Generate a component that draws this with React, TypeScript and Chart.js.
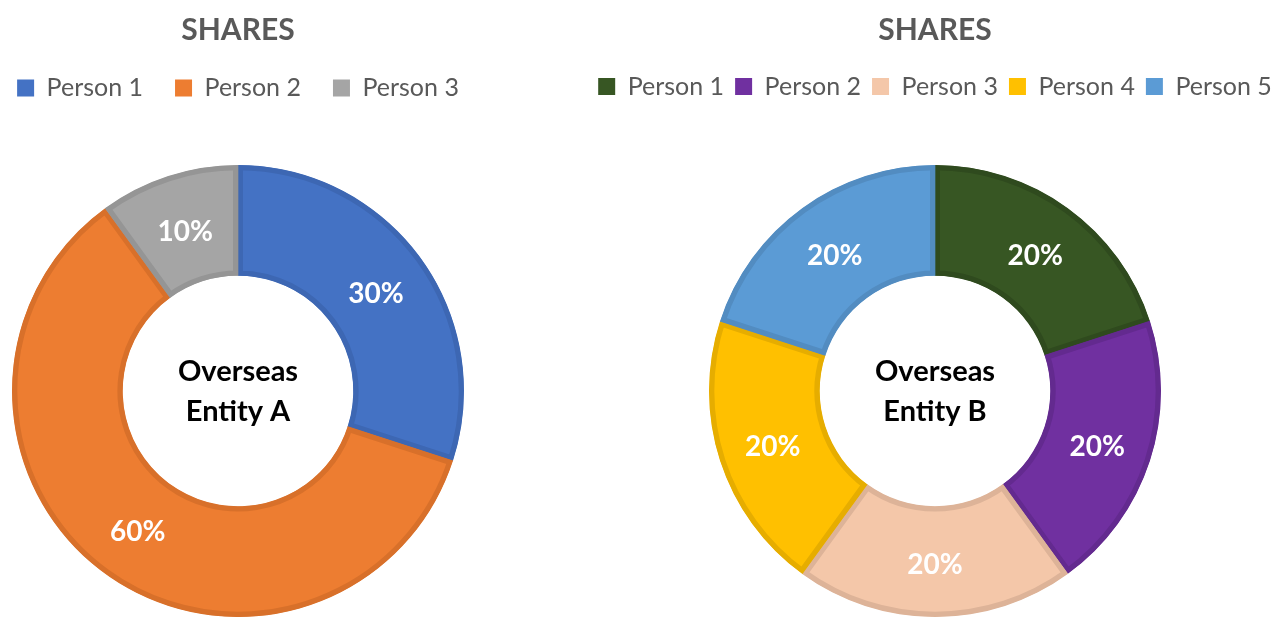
import React, { useEffect, useRef } from "react";
import { Chart, registerables } from "chart.js";

Chart.register(...registerables);

const chartTitle = "SHARES";

const leftLabels = ["Person 1", "Person 2", "Person 3"];
const leftValues = [30, 60, 10];
const leftColors = ["#4472C4", "#ED7D31", "#A5A5A5"];
const leftBorders = ["#3D67B3", "#D8702A", "#959595"];
const leftCenter = ["Overseas", "Entity A"];

const rightLabels = ["Person 1", "Person 2", "Person 3", "Person 4", "Person 5"];
const rightValues = [20, 20, 20, 20, 20];
const rightColors = ["#375623", "#7030A0", "#F4C7A9", "#FFC000", "#5B9BD5"];
const rightBorders = ["#2F4A1E", "#632A8F", "#DDB398", "#E6AD00", "#528CC1"];
const rightCenter = ["Overseas", "Entity B"];

const FONT = "Lato, 'Open Sans', sans-serif";

type Cfg = {
  labels: string[];
  values: number[];
  colors: string[];
  borders: string[];
  center: string[];
  legendPad: number;
  titlePadBottom: number;
};

function makeChart(canvas: HTMLCanvasElement, cfg: Cfg) {
  const TITLE_TOP = 15.5;
  const TITLE_SIZE = 30;
  const CHART_TOP = 165;
  const titleBottom = TITLE_TOP + TITLE_SIZE + cfg.titlePadBottom;

  const legendSpacer = {
    id: "legendSpacer",
    beforeInit(chart: any) {
      const legend = chart.legend;
      if (!legend) return;
      const orig = legend.fit.bind(legend);
      legend.fit = function () {
        orig();
        this.height = CHART_TOP - titleBottom;
      };
    },
  };

  const textPlugin = {
    id: "textPlugin",
    afterDatasetsDraw(chart: any) {
      const ctx = chart.ctx;
      const meta = chart.getDatasetMeta(0);
      const data = chart.data.datasets[0].data as number[];
      const total = data.reduce((a: number, b: number) => a + b, 0);
      ctx.save();
      ctx.textAlign = "center";
      ctx.textBaseline = "middle";
      ctx.fillStyle = "#FFFFFF";
      ctx.font = `bold 28px ${FONT}`;
      meta.data.forEach((arc: any, i: number) => {
        const p = arc.tooltipPosition();
        const pct = Math.round((data[i] / total) * 100);
        ctx.fillText(`${pct}%`, p.x, p.y + 3);
      });
      const first = meta.data[0];
      const cx = first.x;
      const cy = first.y;
      ctx.fillStyle = "#000000";
      ctx.font = `bold 29px ${FONT}`;
      ctx.fillText(cfg.center[0], cx, cy - 19);
      ctx.fillText(cfg.center[1], cx, cy + 21);
      ctx.restore();
    },
  };

  return new Chart(canvas, {
    type: "doughnut",
    data: {
      labels: cfg.labels,
      datasets: [
        {
          data: cfg.values,
          backgroundColor: cfg.colors,
          borderColor: cfg.borders,
          borderWidth: 5,
          borderAlign: "inner",
        } as any,
      ],
    },
    options: {
      responsive: false,
      animation: false,
      events: [],
      radius: 226,
      cutout: "51%",
      layout: { padding: { top: 0, bottom: 0, left: 0, right: 0 } },
      plugins: {
        tooltip: { enabled: false },
        title: {
          display: true,
          text: chartTitle,
          color: "#595959",
          font: { family: FONT, size: TITLE_SIZE, weight: "bold", lineHeight: 1 },
          padding: { top: TITLE_TOP, bottom: cfg.titlePadBottom },
        },
        legend: {
          display: true,
          position: "top",
          labels: {
            color: "#595959",
            font: { family: FONT, size: 25 },
            boxWidth: 17,
            boxHeight: 17,
            padding: cfg.legendPad,
            generateLabels(chart: any) {
              const ds = chart.data.datasets[0];
              return chart.data.labels.map((l: string, i: number) => ({
                text: l,
                fillStyle: ds.backgroundColor[i],
                strokeStyle: ds.backgroundColor[i],
                lineWidth: 0,
                fontColor: "#595959",
                hidden: false,
                index: i,
              }));
            },
          },
        },
      },
    } as any,
    plugins: [legendSpacer, textPlugin],
  });
}

function DonutCanvas(props: { cfg: Cfg; left: number; width: number }) {
  const ref = useRef<HTMLCanvasElement | null>(null);
  useEffect(() => {
    if (!ref.current) return;
    const c = makeChart(ref.current, props.cfg);
    return () => c.destroy();
  }, []);
  return (
    <div style={{ position: "absolute", left: props.left, top: 0, width: props.width, height: 617 }}>
      <canvas ref={ref} width={props.width} height={617} style={{ width: props.width, height: 617, display: "block" }} />
    </div>
  );
}

export default function App() {
  const leftCfg: Cfg = {
    labels: leftLabels,
    values: leftValues,
    colors: leftColors,
    borders: leftBorders,
    center: leftCenter,
    legendPad: 32,
    titlePadBottom: -2,
  };
  const rightCfg: Cfg = {
    labels: rightLabels,
    values: rightValues,
    colors: rightColors,
    borders: rightBorders,
    center: rightCenter,
    legendPad: 11,
    titlePadBottom: 17.5,
  };
  return (
    <div style={{ position: "fixed", left: 0, top: 0, width: 1277, height: 617, overflow: "hidden", background: "#FFFFFF" }}>
      <DonutCanvas cfg={leftCfg} left={-40} width={556} />
      <DonutCanvas cfg={rightCfg} left={555} width={760} />
    </div>
  );
}
